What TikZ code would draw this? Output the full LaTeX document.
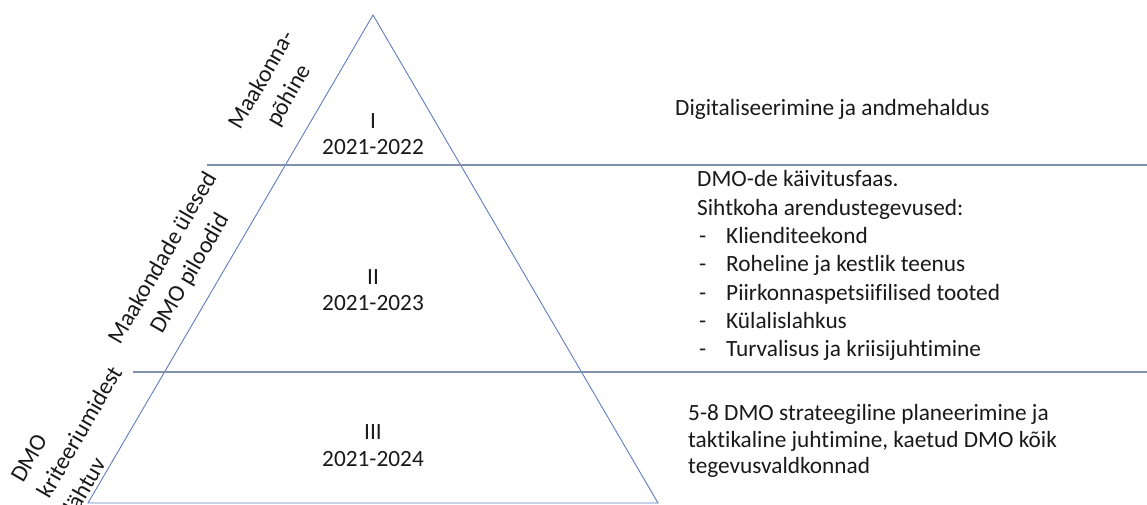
\documentclass[tikz,border=0pt]{standalone}
\usepackage{fontspec}
\setmainfont{Carlito}[Ligatures=NoCommon]
\definecolor{triblue}{RGB}{95,125,190}
\definecolor{hlgrey}{RGB}{128,145,172}
\definecolor{txt}{RGB}{25,25,25}
\begin{document}
\begin{tikzpicture}[x=1pt,y=-1pt,
  tri/.style={draw=triblue, line width=0.9pt, line join=miter},
  hl/.style={draw=hlgrey, line width=1.6pt},
  lbl/.style={inner sep=0pt, text=txt, font=\fontsize{23.3}{28}\selectfont},
  ln/.style={inner sep=0pt, anchor=base west, text=txt, font=\fontsize{23.3}{28}\selectfont},
  rot/.style={rotate=60, inner sep=0pt, text=txt, font=\fontsize{23.6}{31}\selectfont}]
\useasboundingbox (0,0) rectangle (1147,504);
% triangle
\coordinate (apex) at (373,15);
\coordinate (bl) at (88,503);
\coordinate (br) at (658,503);
\draw[tri] (apex) -- (br) -- (bl) -- cycle;
% horizontal dividers
\coordinate (h1a) at (207,165);
\coordinate (h1b) at (1147,165);
\coordinate (h2a) at (133,372);
\coordinate (h2b) at (1147,372);
\draw[hl] (h1a) -- (h1b);
\draw[hl] (h2a) -- (h2b);
% level labels
\node[lbl] (l1) at (373,121) {I};
\node[lbl] (y1) at (373,147) {2021-2022};
\node[lbl] (l2) at (373,277) {II};
\node[lbl] (y2) at (373,303) {2021-2023};
\node[lbl] (l3) at (373,432) {III};
\node[lbl] (y3) at (373,459) {2021-2024};
% rotated side labels
\node[rot, align=center] (s1) at (276,88) {Maakonna-\\põhine};
\node[rot, align=center] (s2) at (177,266) {Maakondade ülesed\\DMO piloodid};
\node[rot, align=left] (s3) at (80,432) {DMO\\kriteeriumidest\\lähtuv};
% right texts
\node[ln] (t1) at (675,115) {Digitaliseerimine ja andmehaldus};
\node[ln] (t2a) at (697,186.7) {DMO-de käivitusfaas.};
\node[ln] (t2b) at (697,215) {Sihtkoha arendustegevused:};
\foreach \y/\t [count=\i] in {243.3/Klienditeekond, 271.6/Roheline ja kestlik teenus, 300/Piirkonnaspetsiifilised tooted, 328.3/Külalislahkus, 356.6/Turvalisus ja kriisijuhtimine}{
  \node[ln] (d\i) at (699,\y) {-};
  \node[ln] (it\i) at (726,\y) {\t};
}
\node[ln] (t3a) at (688,420.5) {5-8 DMO strateegiline planeerimine ja};
\node[ln] (t3b) at (688,447) {taktikaline juhtimine, kaetud DMO kõik};
\node[ln] (t3c) at (688,473.5) {tegevusvaldkonnad};
\end{tikzpicture}
\end{document}
